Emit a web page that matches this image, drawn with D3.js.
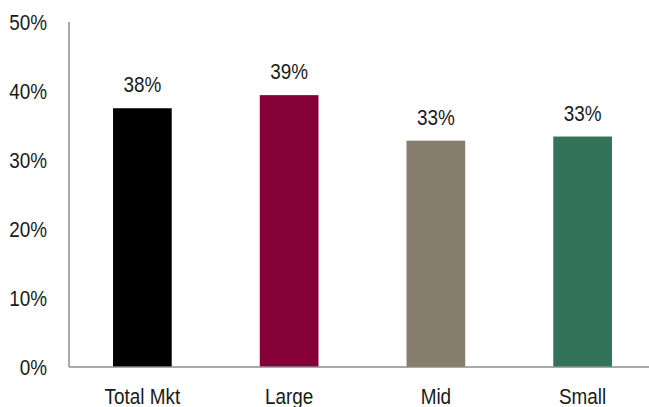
<!DOCTYPE html>
<html>
<head>
<meta charset="utf-8">
<script src="https://d3js.org/d3.v7.min.js"></script>
<style>
    body { margin: 0; background: #fff; }
    text { font-family: "Liberation Sans", Arial, sans-serif; fill: #1a1a1a; }
</style>
</head>
<body>
<svg id="chart" width="649" height="407"></svg>
<script>
var categories = ["Total Mkt", "Large", "Mid", "Small"];
var values = [37.5, 39.4, 32.8, 33.4];
var valueLabels = ["38%", "39%", "33%", "33%"];
var colors = ["#000000", "#850038", "#877d6c", "#33735a"];
var yTicks = [0, 10, 20, 30, 40, 50];

// text is drawn narrow, like Arial Narrow
const NARROW = 0.86;
const FONT_SIZE = "22px";

var svg = d3.select("#chart");

var x = d3.scaleBand()
    .domain(categories)
    .range([69, 656])
    .paddingInner(0.6)
    .paddingOuter(0.3);

var y = d3.scaleLinear()
    .domain([0, 50])
    .range([367, 22]);

// y axis labels, no tick marks
var yAxis = svg.append("g")
    .attr("transform", "translate(69,0)")
    .call(d3.axisLeft(y).tickValues(yTicks).tickSize(0).tickFormat(function(d) { return d + "%"; }));
yAxis.select(".domain").remove();
yAxis.selectAll("text")
    .style("font-size", FONT_SIZE)
    .attr("x", -22 / NARROW)
    .attr("dy", "0.36em")
    .attr("transform", "scale(" + NARROW + ",1)");

// bars
svg.append("g")
    .selectAll("rect")
    .data(values)
    .enter().append("rect")
        .attr("x", function(d, i) { return x(categories[i]); })
        .attr("y", function(d) { return y(d); })
        .attr("width", x.bandwidth())
        .attr("height", function(d) { return y(0) - y(d); })
        .attr("fill", function(d, i) { return colors[i]; });

// value labels
svg.append("g")
    .selectAll("text")
    .data(values)
    .enter().append("text")
        .attr("transform", function(d, i) {
            return "translate(" + (x(categories[i]) + x.bandwidth() / 2) + "," + (y(d) - 16) + ") scale(" + NARROW + ",1)";
        })
        .attr("text-anchor", "middle")
        .style("font-size", FONT_SIZE)
        .text(function(d, i) { return valueLabels[i]; });

// x axis baseline and category labels
var xAxis = svg.append("g")
    .attr("transform", "translate(0," + y(0) + ")")
    .call(d3.axisBottom(x).tickSize(0).tickPadding(21));
xAxis.select(".domain").attr("d", "M69,0H649").attr("stroke", "#8c8c8c").attr("stroke-width", 1.5);
xAxis.selectAll("text")
    .style("font-size", FONT_SIZE)
    .attr("transform", "scale(" + NARROW + ",1)");

// vertical axis line
svg.append("line")
    .attr("x1", 69).attr("x2", 69)
    .attr("y1", y(50)).attr("y2", y(0))
    .attr("stroke", "#8c8c8c")
    .attr("stroke-width", 1.5);
</script>
</body>
</html>
